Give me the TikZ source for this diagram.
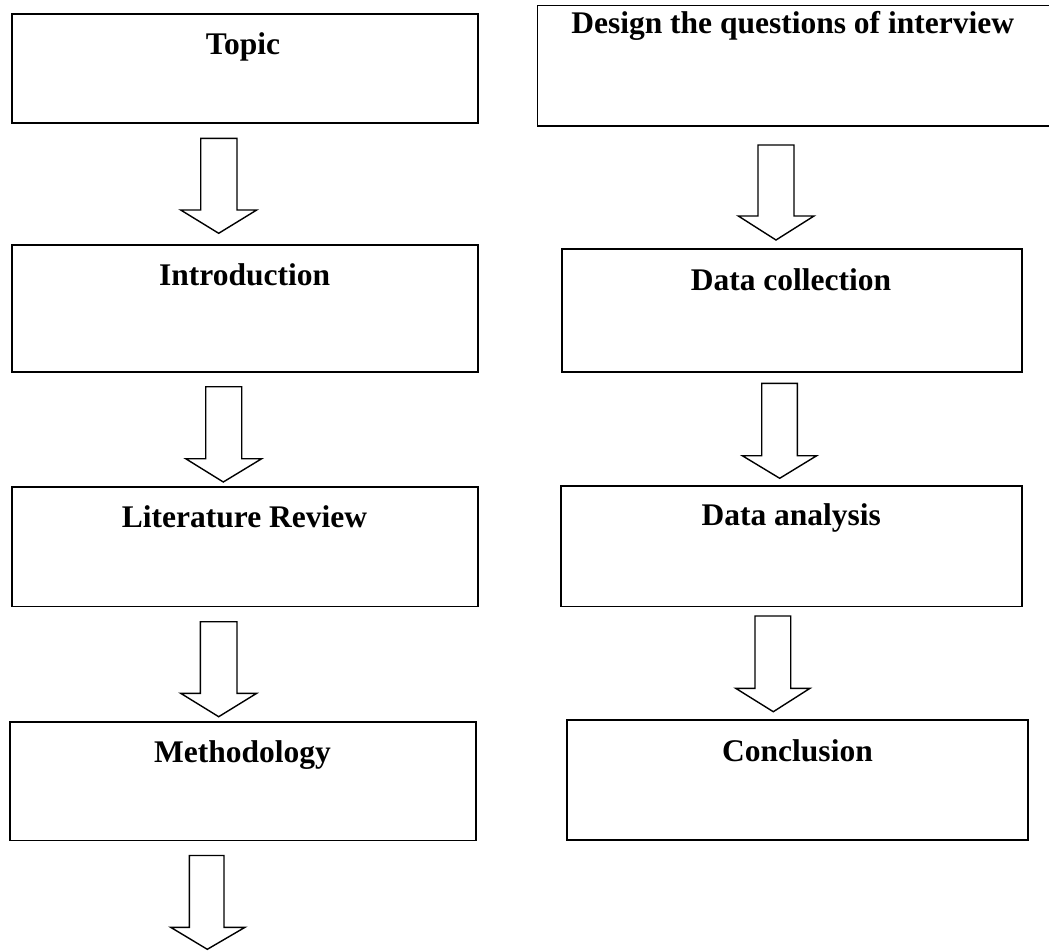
\documentclass[tikz,border=0pt]{standalone}
\usepackage{fontspec}
\setmainfont{Liberation Serif}
\begin{document}
\begin{tikzpicture}[x=1pt,y=-1pt,
  box/.style={draw=black,line width=1.8pt,fill=none},
  lbl/.style={inner sep=0pt,anchor=base,font=\fontsize{31.5}{36}\selectfont\bfseries},
  barrow/.style={draw=black,line width=1.4pt,line join=miter,fill=white}]
\useasboundingbox (0,0) rectangle (1049,950);
% boxes (left column)
\draw[box] (12,14) rectangle (478,123) coordinate (topicBR);
\coordinate (topicC) at (245,68);
\node[lbl] (topic) at (243,55) {Topic};
\draw[box] (12,245) rectangle (478,372);
\node[lbl] (intro) at (244.7,285) {Introduction};
\draw[box] (12,487) rectangle (478,606.5);
\node[lbl] (lit) at (244.5,527.7) {Literature Review};
\draw[box] (10,722) rectangle (476,840.5);
\node[lbl] (meth) at (242.5,762.3) {Methodology};
% boxes (right column)
\draw[box] (537.5,5.5) rectangle (1060,126);
\node[lbl] (design) at (792.7,33.5) {Design the questions of interview};
\draw[box] (561.7,249.3) rectangle (1021.7,371.7);
\node[lbl] (dcoll) at (791,290) {Data collection};
\draw[box] (561.3,485.7) rectangle (1021.7,606.5);
\node[lbl] (danal) at (791.3,525.7) {Data analysis};
\draw[box] (566.7,720) rectangle (1028.3,840);
\node[lbl] (concl) at (797.5,761) {Conclusion};
% block arrows (left)
\draw[barrow] (200.7,138.3) -- (237,138.3) -- (237,210) -- (256.7,210) -- (218.7,233.3) -- (180.7,210) -- (200.7,210) -- cycle;
\draw[barrow] (205.7,386.7) -- (241.7,386.7) -- (241.7,458.7) -- (261.7,458.7) -- (223.3,482) -- (185.7,458.7) -- (205.7,458.7) -- cycle;
\draw[barrow] (200.3,621.7) -- (237,621.7) -- (237,693.3) -- (256.7,693.3) -- (218.7,716.7) -- (180.7,693.3) -- (200.3,693.3) -- cycle;
\draw[barrow] (189.3,855.5) -- (224,855.5) -- (224,927.3) -- (245,927.3) -- (207.3,949.3) -- (170.7,927.3) -- (189.3,927.3) -- cycle;
% block arrows (right)
\draw[barrow] (758,145) -- (794,145) -- (794,216) -- (814,216) -- (776,240) -- (738.3,216) -- (758,216) -- cycle;
\draw[barrow] (761.7,383.3) -- (797.3,383.3) -- (797.3,455.7) -- (816.7,455.7) -- (779.7,478.3) -- (742.3,455.7) -- (761.7,455.7) -- cycle;
\draw[barrow] (755,616) -- (790.7,616) -- (790.7,688.3) -- (810,688.3) -- (773.3,711.7) -- (735.7,688.3) -- (755,688.3) -- cycle;
\end{tikzpicture}
\end{document}
